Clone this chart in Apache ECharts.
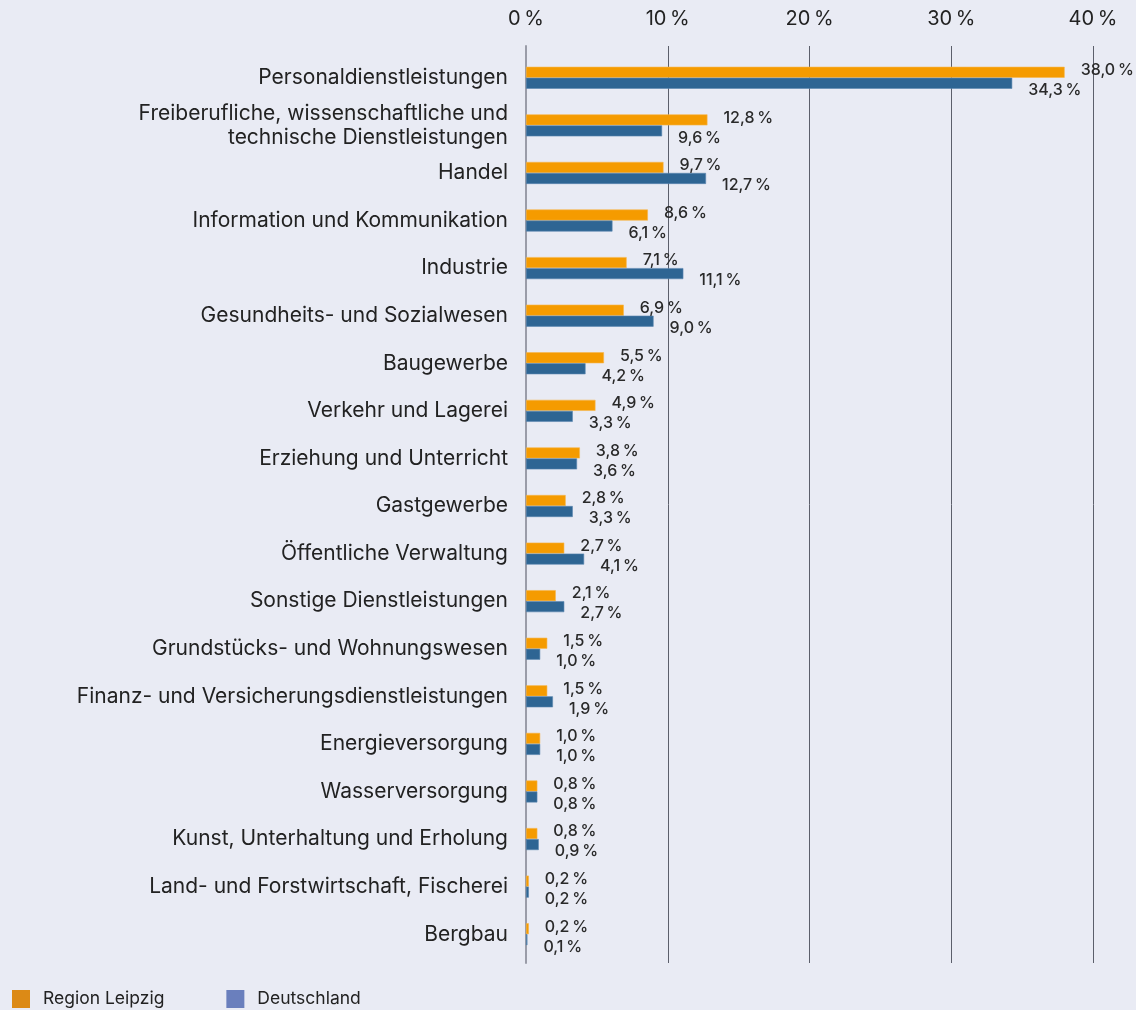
<!DOCTYPE html>
<html lang="de">
<head>
<meta charset="utf-8">
<title>Branchenstruktur Region Leipzig</title>
<script src="https://cdn.jsdelivr.net/npm/echarts@6/dist/echarts.min.js"></script>
<style>
  html, body { margin: 0; padding: 0; background: #e9ebf4; }
  #chart { width: 1136px; height: 1010px; }
</style>
</head>
<body>
<div id="chart"></div>
<script>
const categories = [
  "Personaldienstleistungen",
  "Freiberufliche, wissenschaftliche und\ntechnische Dienstleistungen",
  "Handel",
  "Information und Kommunikation",
  "Industrie",
  "Gesundheits- und Sozialwesen",
  "Baugewerbe",
  "Verkehr und Lagerei",
  "Erziehung und Unterricht",
  "Gastgewerbe",
  "Öffentliche Verwaltung",
  "Sonstige Dienstleistungen",
  "Grundstücks- und Wohnungswesen",
  "Finanz- und Versicherungsdienstleistungen",
  "Energieversorgung",
  "Wasserversorgung",
  "Kunst, Unterhaltung und Erholung",
  "Land- und Forstwirtschaft, Fischerei",
  "Bergbau"
];
const leipzig = [38.0, 12.8, 9.7, 8.6, 7.1, 6.9, 5.5, 4.9, 3.8, 2.8, 2.7, 2.1, 1.5, 1.5, 1.0, 0.8, 0.8, 0.2, 0.2];
const deutschland = [34.3, 9.6, 12.7, 6.1, 11.1, 9.0, 4.2, 3.3, 3.6, 3.3, 4.1, 2.7, 1.0, 1.9, 1.0, 0.8, 0.9, 0.2, 0.1];

const FONT = "Inter, 'Noto Sans', sans-serif";
const fmt = (v) => v.toFixed(1).replace(".", ",") + "\u2009%";

const chart = echarts.init(document.getElementById("chart"));

chart.setOption({
  backgroundColor: "#e9ebf4",
  animation: false,
  textStyle: { fontFamily: FONT },
  grid: [
    { left: 526, width: 567, top: 54, height: 904, containLabel: false },
    { left: 526, width: 567, top: 46, height: 917, containLabel: false }
  ],
  legend: {
    left: 7,
    top: 985,
    itemWidth: 18,
    itemHeight: 18,
    itemGap: 62,
    icon: "rect",
    textStyle: { fontSize: 17.5, color: "#222", fontFamily: FONT, padding: [0, 0, 0, 8] },
    data: [
      { name: "Region Leipzig", itemStyle: { color: "#dc8a16", borderWidth: 0 } },
      { name: "Deutschland", itemStyle: { color: "#6a7fbd", borderWidth: 0 } }
    ]
  },
  xAxis: [
    {
      gridIndex: 0,
      type: "value",
      position: "top",
      min: 0,
      max: 40,
      interval: 10,
      axisLine: { show: false },
      axisTick: { show: false },
      splitLine: { show: false },
      axisLabel: {
        margin: 25,
        fontSize: 20,
        color: "#222",
        fontFamily: FONT,
        formatter: (v) => v + "\u2009%"
      }
    },
    {
      gridIndex: 1,
      type: "value",
      min: 0,
      max: 40,
      interval: 10,
      axisLine: { show: false },
      axisTick: { show: false },
      axisLabel: { show: false },
      splitLine: { show: true, lineStyle: { color: "#5c5f6b", width: 1 } }
    }
  ],
  yAxis: [
    {
      gridIndex: 0,
      type: "category",
      inverse: true,
      data: categories,
      axisLine: { show: false },
      axisTick: { show: false },
      axisLabel: {
        margin: 18,
        fontSize: 21,
        color: "#222",
        fontFamily: FONT,
        lineHeight: 24
      }
    },
    {
      gridIndex: 1,
      type: "value",
      axisLine: { show: true, lineStyle: { color: "#9a9ca8", width: 2 } },
      axisTick: { show: false },
      axisLabel: { show: false },
      splitLine: { show: false }
    }
  ],
  series: [
    {
      name: "Region Leipzig",
      type: "bar",
      xAxisIndex: 0,
      yAxisIndex: 0,
      data: leipzig,
      barWidth: 11,
      barGap: "0%",
      z: 3,
      itemStyle: { color: "#f59b00", borderColor: "#f7b649", borderWidth: 0.6 },
      label: {
        show: true,
        position: "right",
        distance: 16,
        offset: [0, -2],
        fontSize: 16,
        fontWeight: 500,
        color: "#2a2a2a",
        fontFamily: FONT,
        formatter: (p) => fmt(p.value)
      }
    },
    {
      name: "Deutschland",
      type: "bar",
      xAxisIndex: 0,
      yAxisIndex: 0,
      data: deutschland,
      barWidth: 11,
      barGap: "0%",
      z: 3,
      itemStyle: { color: "#2e6593", borderColor: "#5b86b0", borderWidth: 0.6 },
      label: {
        show: true,
        position: "right",
        distance: 16,
        offset: [0, 7],
        fontSize: 16,
        fontWeight: 500,
        color: "#2a2a2a",
        fontFamily: FONT,
        formatter: (p) => fmt(p.value)
      }
    }
  ]
}, true);

window.addEventListener("resize", () => chart.resize());
</script>
</body>
</html>
